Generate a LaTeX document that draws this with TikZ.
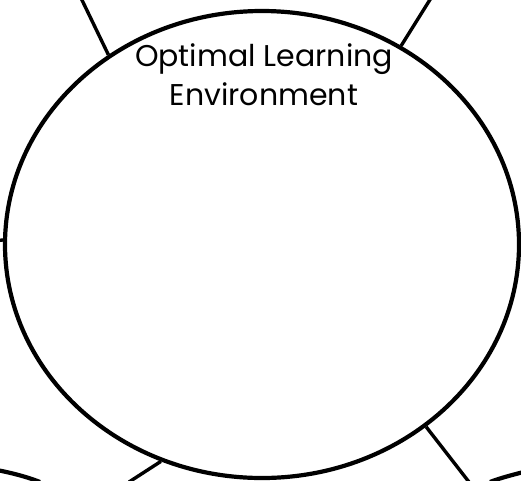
\documentclass[tikz,border=0pt]{standalone}
\usetikzlibrary{shapes.geometric}
\usepackage{fontspec}
\setmainfont{Poppins}
\begin{document}
\begin{tikzpicture}[x=1pt,y=-1pt,
  rim/.style={draw=black,line width=4.2pt},
  spoke/.style={draw=black,line width=3.4pt},
  lbl/.style={font=\fontsize{30}{39}\selectfont,align=center,text=black}]
\useasboundingbox (0,0) rectangle (521,480);
\begin{scope}
\clip (0,0) rectangle (521,480);
\node[rim,ellipse,minimum width=514pt,minimum height=467pt,inner sep=0pt] (main) at (262,244.5) {};
% spokes
\coordinate (ul) at (81,-2);
\coordinate (ur) at (431,-2);
\coordinate (bl) at (129,482);
\coordinate (br) at (469,482);
\coordinate (lf) at (-2,240.5);
\draw[spoke] (ul) -- (main.{129.3});
\draw[spoke] (ur) -- (main.{55});
\draw[spoke] (bl) -- (main.{-115.8});
\draw[spoke] (br) -- (main.{-48.7});
\draw[spoke] (lf) -- (main.{179});
% partial neighbouring circles
\draw[rim] (-20,467) .. controls (5,471) and (25,476) .. (40,482);
\draw[rim] (490,482) .. controls (500,478) and (515,474) .. (540,468);
\end{scope}
\node[lbl] (title) at (264,75) {Optimal Learning\\Environment};
\end{tikzpicture}
\end{document}
